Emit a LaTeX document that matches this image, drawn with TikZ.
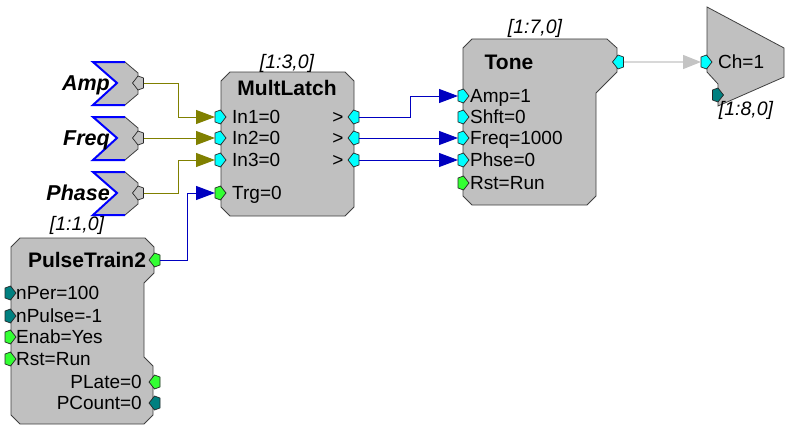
\documentclass[tikz,border=0pt]{standalone}
\usepackage{fontspec}
\setmainfont{Liberation Sans}
\usetikzlibrary{arrows.meta}
\definecolor{boxgray}{HTML}{C0C0C0}
\definecolor{boxedge}{HTML}{404040}
\definecolor{portcyan}{HTML}{00FFFF}
\definecolor{portgreen}{HTML}{33FF33}
\definecolor{portteal}{HTML}{008080}
\definecolor{wireolive}{HTML}{808000}
\definecolor{wireblue}{HTML}{0000C0}
\definecolor{wiregray}{HTML}{D8D8D8}
\definecolor{tipgray}{HTML}{C4C4C4}
\definecolor{srcblue}{HTML}{0000FF}

% port pointing right / left: name, x, y, colour
\newcommand{\inport}[4]{%
  \node[port] (#1) at (#2,#3) {};
  \filldraw[portline, fill=#4] (#1.center) ++(-5.5,-5) -- ++(5.5,-2)
    -- ++(5.5,7) -- ++(-5.5,7) -- ++(-5.5,-2) -- cycle;}
\newcommand{\outport}[4]{%
  \node[port] (#1) at (#2,#3) {};
  \filldraw[portline, fill=#4] (#1.center) ++(5.5,-5) -- ++(-5.5,-2)
    -- ++(-5.5,7) -- ++(5.5,7) -- ++(5.5,-2) -- cycle;}

\begin{document}
\begin{tikzpicture}[x=1pt, y=-1pt,
  modbox/.style={draw=boxedge, fill=boxgray, line width=0.8pt},
  port/.style={minimum width=11pt, minimum height=14pt, inner sep=0pt,
               outer sep=0pt},
  portline/.style={draw=black!85, line width=0.7pt, line join=round},
  plbl/.style={anchor=base west, yshift=-6.8pt, inner sep=0pt,
               font=\fontsize{19}{22}\selectfont},
  prlbl/.style={plbl, anchor=base east},
  ttl/.style={anchor=base, yshift=-7.5pt, inner sep=0pt,
              font=\fontsize{21}{24}\selectfont\bfseries},
  addr/.style={inner sep=0pt, font=\fontsize{19.5}{22}\selectfont\itshape},
  srclbl/.style={anchor=base east, yshift=-7.5pt, inner sep=0pt,
                 font=\fontsize{21.5}{24}\selectfont\bfseries\itshape},
  owire/.style={draw=wireolive, line width=1pt,
                -{Triangle[length=19pt, width=14pt, fill=wireolive]}},
  bwire/.style={draw=wireblue, line width=1pt,
                -{Triangle[length=19pt, width=14pt, fill=wireblue]}},
  gwire/.style={draw=wiregray, line width=1.2pt,
                -{Triangle[length=18pt, width=14pt, color=tipgray]}},
]
  \path[fill=white, use as bounding box] (0,0) rectangle (786,428);

  % Source parameters
  \foreach \n/\t/\y in {amp/Amp/83, freq/Freq/138, phase/Phase/193}{
    \fill[boxgray] (93,\y-21) -- (125,\y-21) -- (138,\y-10) -- (138,\y+11)
      -- (125,\y+22) -- (93,\y+22) -- (117,\y) -- cycle;
    \draw[boxedge, line width=0.8pt] (125,\y-21) -- (138,\y-10) -- (138,\y+11) -- (125,\y+22);
    \draw[srcblue, line width=2pt, line join=miter]
      (125,\y-21) -- (93,\y-21) -- (117,\y) -- (93,\y+22) -- (125,\y+22);
    \node[srclbl] (\n-lbl) at (110,\y) {\t};
    \outport{\n-out}{138}{\y}{boxgray}
  }

  % MultLatch
  \draw[modbox] (221,81) -- (230,72) -- (345,72) -- (354,81) -- (354,207)
    -- (345,216) -- (230,216) -- (221,207) -- cycle;
  \node[ttl] (ml) at (287,88) {MultLatch};
  \node[addr] (ml-addr) at (287,63) {[1:3,0]};
  \foreach \i/\y in {1/117, 2/138, 3/160}{
    \inport{ml-in\i}{220.5}{\y}{portcyan}
    \node[plbl] (ml-in\i-lbl) at (232,\y) {In\i=0};
    \node[plbl, anchor=base] (ml-gt\i) at (338,\y) {>};
    \outport{ml-out\i}{353.5}{\y}{portcyan}
  }
  \inport{ml-trg}{220.5}{193}{portgreen}
  \node[plbl] (ml-trg-lbl) at (232,193) {Trg=0};

  % PulseTrain2
  \draw[modbox] (11,247) -- (20,238) -- (145,238) -- (154,247) -- (154,273)
    -- (144,283) -- (144,357) -- (153,366) -- (153,415) -- (144,424)
    -- (20,424) -- (11,415) -- cycle;
  \node[ttl] (pt) at (87,260) {PulseTrain2};
  \node[addr] (pt-addr) at (77,225) {[1:1,0]};
  \outport{pt-out}{154.5}{260}{portgreen}
  \inport{pt-per}{10.5}{293}{portteal}
  \node[plbl] at (16,293) {nPer=100};
  \inport{pt-pulse}{10.5}{316}{portteal}
  \node[plbl] at (16,316) {nPulse=-1};
  \inport{pt-enab}{10.5}{337}{portgreen}
  \node[plbl] at (16,337) {Enab=Yes};
  \inport{pt-rst}{10.5}{359}{portgreen}
  \node[plbl] at (16,359) {Rst=Run};
  \node[prlbl] at (142,382) {PLate=0};
  \outport{pt-plate}{154.5}{382}{portgreen}
  \node[prlbl] at (142,403) {PCount=0};
  \outport{pt-pcount}{154.5}{403}{portteal}

  % Tone
  \draw[modbox] (463,48) -- (472,39) -- (607,39) -- (617,48) -- (617,72)
    -- (596,93) -- (596,196) -- (587,205) -- (472,205) -- (463,196) -- cycle;
  \node[ttl] (tone) at (509,62) {Tone};
  \node[addr] (tone-addr) at (535,28) {[1:7,0]};
  \outport{tone-out}{618}{62}{portcyan}
  \foreach \n/\t/\y in {amp/Amp=1/96, shft/Shft=0/117, freq/Freq=1000/138, phse/Phse=0/160}{
    \inport{tone-\n}{463.5}{\y}{portcyan}
    \node[plbl] at (470,\y) {\t};
  }
  \inport{tone-rst}{463.5}{183}{portgreen}
  \node[plbl] at (470,183) {Rst=Run};

  % DAC out
  \draw[modbox] (707,7) -- (784,48) -- (784,77) -- (718,106) -- (718,84)
    -- (707,72) -- cycle;
  \inport{dac-ch}{706.5}{62}{portcyan}
  \node[plbl] (dac-lbl) at (718,62) {Ch=1};
  \inport{dac-aux}{718}{95}{portteal}
  \node[addr] (dac-addr) at (746,110) {[1:8,0]};

  % Wires
  \draw[owire] (amp-out.east) -- ++(35,0) |- (ml-in1.west);
  \draw[owire] (freq-out.east) -- (ml-in2.west);
  \draw[owire] (phase-out.east) -- ++(35,0) |- (ml-in3.west);
  \draw[bwire] (pt-out.east) -- ++(27,0) |- (ml-trg.west);
  \draw[bwire] (ml-out1.east) -- ++(51,0) |- (tone-amp.west);
  \draw[bwire] (ml-out2.east) -- (tone-freq.west);
  \draw[bwire] (ml-out3.east) -- (tone-phse.west);
  \draw[gwire] (tone-out.east) -- (dac-ch.west);
\end{tikzpicture}
\end{document}
